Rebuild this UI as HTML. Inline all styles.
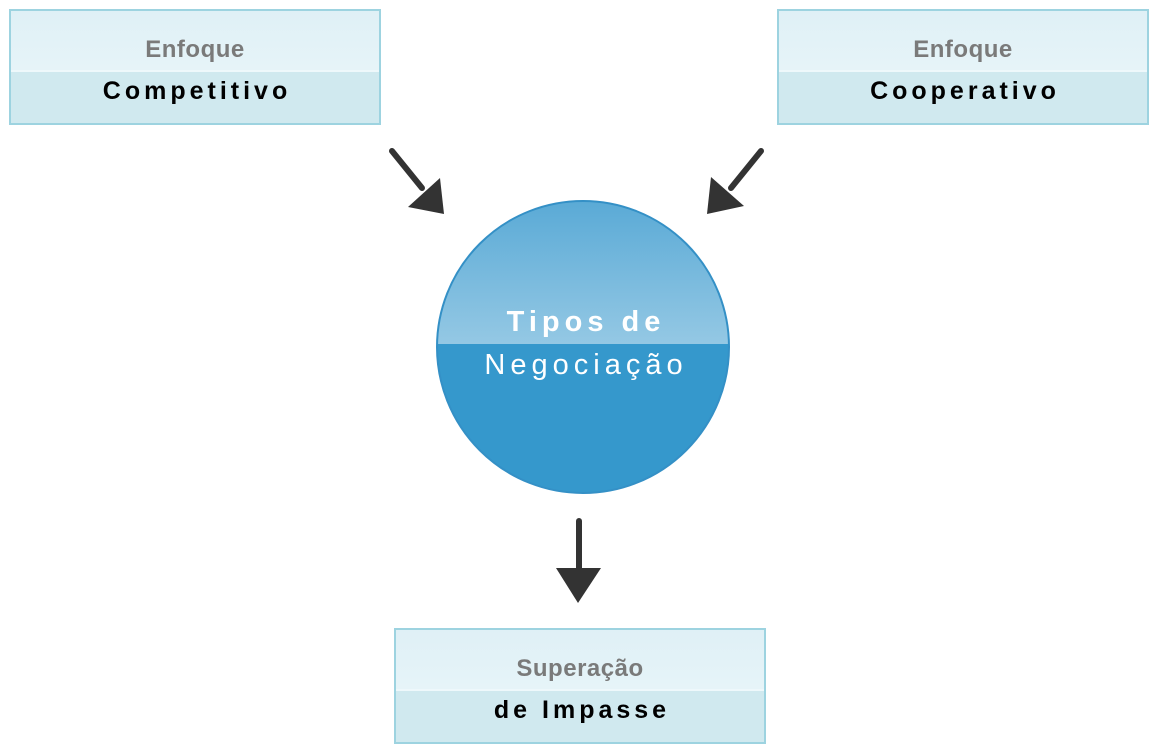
<!DOCTYPE html>
<html><head><meta charset="utf-8"><style>
body{margin:0;width:1162px;height:754px;background:#fff;position:relative;overflow:hidden;font-family:"Liberation Sans","DejaVu Sans",sans-serif}
.box{position:absolute;width:368px;height:112px;border:2px solid #9dd3e0;background:#d0e9ef;box-sizing:content-box}
.box .top{position:absolute;left:0;top:0;right:0;height:59px;background:linear-gradient(#dff0f6,#e6f4f8);border-bottom:2px solid #eef8fb}
.box .t1{position:absolute;left:0;right:0;top:25px;text-align:center;font-weight:bold;font-size:24px;color:#7a7a7a;letter-spacing:0.5px}
.box .t2{position:absolute;left:4px;right:0;top:66px;text-align:center;font-weight:bold;font-size:25px;color:#000;letter-spacing:4px}
</style></head><body>
<div class="box" style="left:9px;top:9px"><div class="top"></div><div class="t1">Enfoque</div><div class="t2">Competitivo</div></div>
<div class="box" style="left:777px;top:9px"><div class="top"></div><div class="t1">Enfoque</div><div class="t2">Cooperativo</div></div>
<div class="box" style="left:394px;top:628px"><div class="top"></div><div class="t1">Superação</div><div class="t2">de Impasse</div></div>
<svg width="1162" height="754" style="position:absolute;left:0;top:0">
<defs>
<linearGradient id="g" x1="0" y1="0" x2="0" y2="1"><stop offset="0" stop-color="#5aaad6"/><stop offset="1" stop-color="#94c8e4"/></linearGradient>
<clipPath id="c"><circle cx="583" cy="347" r="146"/></clipPath>
</defs>
<circle cx="583" cy="347" r="146" fill="#3598cc"/>
<rect x="437" y="201" width="292" height="143" fill="url(#g)" clip-path="url(#c)"/>
<circle cx="583" cy="347" r="146" fill="none" stroke="#3490c6" stroke-width="2"/>
<text x="586" y="331" text-anchor="middle" fill="#fff" font-family="Liberation Sans, sans-serif" font-weight="bold" font-size="29" letter-spacing="5">Tipos de</text>
<text x="586" y="374" text-anchor="middle" fill="#fff" font-family="Liberation Sans, sans-serif" font-size="29" letter-spacing="5">Negociação</text>
<g stroke="#333" stroke-width="6" stroke-linecap="round" fill="#333">
<line x1="392" y1="151" x2="422" y2="188"/>
<line x1="761" y1="151" x2="731" y2="188"/>
<line x1="579" y1="521" x2="579" y2="572"/>
</g>
<g fill="#333">
<polygon points="444,214 408,207 440,178"/>
<polygon points="707,214 711,177 744,206"/>
<polygon points="578,603 556,568 601,568"/>
</g>
</svg>
</body></html>
